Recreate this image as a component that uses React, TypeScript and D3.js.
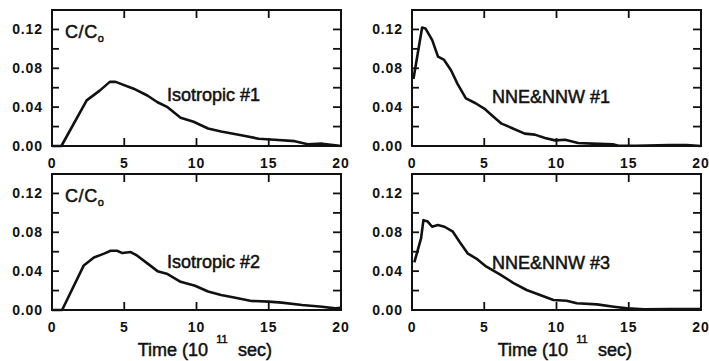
import * as d3 from "d3"

// time axis (10^11 sec) and C/C0 values
const iso1T = [0, 0.65, 2.4, 3.3, 4.0, 4.4, 5.65, 6.6, 7.3, 8.0, 8.9, 9.8, 10.8, 11.7, 13.1, 14.3, 15.4, 16.8, 17.7, 18.7, 19.6, 20]
const iso1V = [0, 0, 0.047, 0.057, 0.066, 0.066, 0.059, 0.052, 0.045, 0.04, 0.029, 0.025, 0.018, 0.015, 0.011, 0.0075, 0.0065, 0.005, 0.0017, 0.0024, 0.0007, 0]

const nne1T = [0.1, 0.7, 0.93, 1.4, 1.8, 2.2, 2.7, 3.15, 3.73, 4.4, 5.0, 5.5, 6.2, 6.9, 7.8, 8.5, 9.2, 9.9, 10.6, 11.5, 12.5, 13.9, 14.3, 15.5, 17.8, 19, 20]
const nne1V = [0.069, 0.122, 0.121, 0.109, 0.092, 0.089, 0.078, 0.064, 0.049, 0.044, 0.0385, 0.032, 0.023, 0.0186, 0.0127, 0.0117, 0.0083, 0.0058, 0.0065, 0.0031, 0.0024, 0.0017, 0.0003, 0.0003, 0.001, 0.001, 0]

const iso2T = [0, 0.7, 2.2, 2.9, 3.6, 4.06, 4.5, 4.87, 5.45, 5.9, 6.6, 7.3, 8.0, 8.9, 9.9, 10.8, 11.7, 12.6, 13.8, 15.0, 15.9, 17.3, 18.7, 19.6, 20]
const iso2V = [0, 0, 0.0459, 0.054, 0.058, 0.061, 0.061, 0.0586, 0.0597, 0.0559, 0.048, 0.04, 0.037, 0.029, 0.025, 0.019, 0.0155, 0.0128, 0.0093, 0.0086, 0.0076, 0.0052, 0.0034, 0.0017, 0.0024]

const nne3T = [0.16, 0.63, 0.79, 1.09, 1.39, 1.79, 2.25, 2.83, 3.3, 3.87, 4.45, 5.15, 6.08, 7.0, 7.93, 8.86, 9.79, 10.7, 11.4, 12.8, 13.97, 14.9, 16.06, 17.9, 20]
const nne3V = [0.049, 0.074, 0.0925, 0.091, 0.0857, 0.0874, 0.0857, 0.0806, 0.07, 0.058, 0.053, 0.0446, 0.0367, 0.028, 0.0206, 0.0154, 0.0103, 0.0096, 0.0069, 0.0058, 0.0034, 0.0017, 0.0007, 0.001, 0.001]

const xTicks = [0, 5, 10, 15, 20]
const yLabelTicks = [0, 0.04, 0.08, 0.12]
const yTickMarks = [0.02, 0.04, 0.06, 0.08, 0.1, 0.12]
const labels = ["Isotropic #1", "NNE&NNW #1", "Isotropic #2", "NNE&NNW #3"]

const W = 289
const H = 136
const FONT = "'Liberation Sans', Arial, Helvetica, sans-serif"

type PanelProps = {
  left: number
  top: number
  t: number[]
  v: number[]
  label: string
  labelX: number
  labelY: number
  cc: boolean
  title: boolean
}

function Panel({ left, top, t, v, label, labelX, labelY, cc, title }: PanelProps) {
  const x = d3.scaleLinear().domain([0, 20]).range([left, left + W])
  const y = d3.scaleLinear().domain([0, 0.14]).range([top + H, top])
  const line = d3
    .line<number>()
    .x((_, i) => x(t[i]))
    .y((d) => y(d))
  const fmt = d3.format(".2f")

  return (
    <g>
      {/* curve */}
      <path d={line(v) ?? ""} fill="none" stroke="#111" strokeWidth={2.6} strokeLinejoin="round" />

      {/* frame */}
      <rect x={left} y={top} width={W} height={H} fill="none" stroke="#111" strokeWidth={2} />

      {/* y ticks on both sides */}
      {yTickMarks.map((d) => (
        <g key={d}>
          <line x1={left} x2={left + 7} y1={y(d)} y2={y(d)} stroke="#111" strokeWidth={1.8} />
          <line x1={left + W - 8} x2={left + W} y1={y(d)} y2={y(d)} stroke="#111" strokeWidth={1.8} />
        </g>
      ))}

      {/* x ticks top and bottom */}
      {xTicks.slice(1, -1).map((d) => (
        <g key={d}>
          <line x1={x(d)} x2={x(d)} y1={top} y2={top + 8} stroke="#111" strokeWidth={1.8} />
          <line x1={x(d)} x2={x(d)} y1={top + H} y2={top + H - 8} stroke="#111" strokeWidth={1.8} />
        </g>
      ))}

      {/* y tick labels */}
      {yLabelTicks.map((d) => (
        <text
          key={d}
          x={left - 9}
          y={y(d) + 5}
          textAnchor="end"
          fontSize={14}
          fontWeight="bold"
          letterSpacing={0.9}
          fontFamily={FONT}
          fill="#111"
        >
          {fmt(d)}
        </text>
      ))}

      {/* x tick labels */}
      {xTicks.map((d) => (
        <text
          key={d}
          x={x(d)}
          y={top + H + 22}
          textAnchor="middle"
          fontSize={14}
          fontWeight="bold"
          letterSpacing={0.9}
          fontFamily={FONT}
          fill="#111"
        >
          {d}
        </text>
      ))}

      {/* panel label */}
      <text x={labelX} y={labelY} fontSize={18} fontFamily={FONT} fill="#111" stroke="#111" strokeWidth={0.5}>
        {label}
      </text>

      {cc && (
        <text x={left + 13} y={top + 28} fontSize={18} fontFamily={FONT} fill="#111" stroke="#111" strokeWidth={0.5} letterSpacing={0.6}>
          C/C
          <tspan fontSize={11} dy={4}>o</tspan>
        </text>
      )}

      {title && (
        <g fontFamily={FONT} fill="#111" stroke="#111" strokeWidth={0.5}>
          <text x={left + 156} y={top + H + 46} textAnchor="end" fontSize={18}>
            Time (10
          </text>
          <text x={left + 170} y={top + H + 33} textAnchor="middle" fontSize={11}>
            11
          </text>
          <text x={left + 186} y={top + H + 46} fontSize={18}>
            sec)
          </text>
        </g>
      )}
    </g>
  )
}

export default function App() {
  return (
    <svg
      width={709}
      height={361}
      style={{ position: "absolute", left: 0, top: 0, background: "#fff" }}
    >
      <rect width={709} height={361} fill="#fff" />
      <Panel left={52} top={10} t={iso1T} v={iso1V} label={labels[0]} labelX={167} labelY={101} cc title={false} />
      <Panel left={412} top={10} t={nne1T} v={nne1V} label={labels[1]} labelX={492} labelY={103} cc={false} title={false} />
      <Panel left={52} top={174} t={iso2T} v={iso2V} label={labels[2]} labelX={167} labelY={268} cc title />
      <Panel left={412} top={174} t={nne3T} v={nne3V} label={labels[3]} labelX={492} labelY={269} cc={false} title />
    </svg>
  )
}
